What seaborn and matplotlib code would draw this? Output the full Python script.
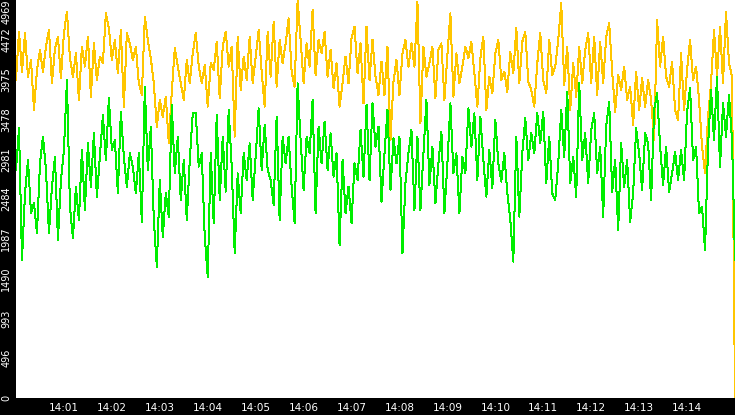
import pandas as pd
import matplotlib
matplotlib.use('Agg')
import matplotlib.pyplot as plt
import seaborn as sns

# samples every 3.75 s from 14:00:00 to 14:15:00
start = '2024-01-01 14:00:00'
step = '3750ms'

yellow = [
    3970, 4575, 4075, 4555, 4012, 4221, 3597, 4095, 4345, 4075,
    4387, 4595, 3929, 4366, 4512, 3992, 4555, 4824, 4242, 4012,
    4304, 3721, 4387, 4138, 4512, 3762, 4428, 3970, 4262, 4179,
    4802, 4616, 4221, 4470, 4054, 4595, 3638, 4555, 4428, 4221,
    4387, 3929, 3783, 4761, 4470, 4242, 3929, 3388, 3721, 3513,
    3762, 3179, 3824, 4366, 4138, 3929, 3721, 4221, 3929, 4304,
    4555, 4138, 3929, 4158, 3638, 4179, 4095, 4449, 3741, 4387,
    4575, 4138, 4387, 3263, 4512, 3846, 4262, 3970, 4512, 3929,
    4262, 4595, 4075, 3638, 4575, 4012, 4699, 3888, 4470, 4179,
    4428, 4740, 4075, 3888, 4969, 4470, 3929, 4428, 4138, 4845,
    4033, 4470, 4304, 4575, 4012, 4345, 3867, 4179, 3638, 3929,
    4262, 3929, 4490, 4637, 4054, 4428, 3679, 4637, 3970, 4470,
    4012, 3783, 4200, 3783, 4387, 3222, 3950, 4221, 3783, 4304,
    4470, 4138, 4428, 4138, 4945, 3429, 4387, 4012, 4179, 4387,
    3741, 4345, 4428, 3721, 4283, 4802, 3762, 4304, 3929, 4138,
    4387, 4242, 4449, 4054, 3638, 4242, 4512, 3597, 4012, 3804,
    4304, 4470, 3970, 4075, 3824, 4324, 4054, 4616, 3929, 4449,
    4575, 3950, 3846, 3638, 4179, 4555, 3970, 3804, 4470, 4033,
    4138, 4470, 4927, 3908, 4387, 3597, 4179, 3762, 4387, 3929,
    4345, 4555, 3929, 4512, 3783, 4449, 3929, 4512, 4678, 4075,
    3576, 4033, 3846, 4138, 3721, 3888, 3409, 4075, 3597, 3992,
    3638, 3970, 3721, 3222, 4719, 4138, 4512, 4012, 3888, 4200,
    3597, 3471, 4304, 3597, 4095, 4470, 3970, 4138, 3721, 3138,
    2805, 3513, 3929, 4595, 4012, 4637, 3929, 4824, 4179, 4012,
    0,
]

green = [
    2847, 3367, 1724, 2555, 2972, 2306, 2431, 2056, 2930, 3263,
    2847, 2056, 2639, 3014, 1973, 2722, 3096, 3970, 2389, 1994,
    2639, 2223, 3096, 2348, 3179, 2639, 3305, 2514, 3014, 3534,
    2972, 3741, 3096, 3222, 2555, 3576, 3014, 2639, 3055, 2889,
    2555, 3055, 2201, 3888, 2847, 3388, 2223, 1640, 2722, 2015,
    2555, 2265, 3658, 2805, 3263, 2472, 2972, 2223, 2972, 3555,
    3555, 2889, 3055, 2015, 1515, 3055, 2181, 3534, 2472, 3263,
    2577, 3597, 2889, 1806, 2805, 2306, 3055, 2722, 3179, 2472,
    3014, 3617, 2847, 3409, 2847, 2722, 2410, 3513, 2223, 3263,
    2930, 3263, 2639, 2181, 3929, 3222, 2598, 3263, 3055, 3721,
    2306, 3388, 2930, 3450, 2847, 3305, 2764, 3055, 1911, 2972,
    2306, 2639, 2181, 2930, 2722, 3346, 2764, 3658, 2722, 3679,
    3138, 3388, 2451, 3055, 3597, 2598, 3242, 2930, 3263, 1806,
    2681, 3055, 3346, 2348, 3263, 2348, 3055, 3721, 2660, 3138,
    2431, 2930, 3326, 2306, 2930, 3679, 2805, 3055, 2306, 3014,
    2805, 3617, 3138, 3555, 2722, 3513, 2972, 2514, 3096, 2618,
    3471, 2930, 2701, 3055, 2555, 2223, 1703, 3263, 2265, 3055,
    3492, 2972, 3305, 3055, 3555, 3179, 3576, 2681, 3263, 2555,
    2472, 2930, 3597, 3014, 3824, 2681, 3014, 2514, 3929, 2972,
    3305, 2681, 3346, 3555, 2805, 3138, 2265, 3388, 3700, 2577,
    2972, 2098, 3179, 2639, 2972, 2201, 2555, 3367, 3055, 2598,
    3305, 3179, 2472, 3597, 3804, 3138, 2660, 3138, 2577, 2805,
    3076, 2722, 3096, 2722, 3576, 3867, 2972, 3138, 2306, 2389,
    1848, 3138, 3846, 3222, 4012, 2889, 3679, 3263, 3783, 3222,
    1724,
]

y_ticks = [0, 496, 993, 1490, 1987, 2484, 2981, 3478, 3975, 4472, 4969]
x_ticks = ['14:01', '14:02', '14:03', '14:04', '14:05', '14:06', '14:07',
           '14:08', '14:09', '14:10', '14:11', '14:12', '14:13', '14:14']

times = pd.date_range(start, periods=len(yellow), freq=step)
df = pd.DataFrame({'time': times, 'yellow': yellow, 'green': green})

sns.set_style('white')
plt.rcParams['font.family'] = ['DejaVu Sans']

fig = plt.figure(figsize=(7.35, 4.15), dpi=100, facecolor='black')
ax = fig.add_axes([16 / 735, 17 / 415, 719 / 735, 398 / 415])
ax.set_facecolor('white')

sns.lineplot(data=df, x='time', y='yellow', color='#FFC600', lw=0.72,
             antialiased=False, ax=ax)
sns.lineplot(data=df, x='time', y='green', color='#00EE00', lw=0.72,
             antialiased=False, ax=ax)

ax.set_xlim(times[0], times[-1])
ax.set_ylim(0, 4969)
ax.set_xticks(pd.to_datetime(['2024-01-01 ' + t for t in x_ticks]))
ax.set_xticklabels(x_ticks)
ax.set_yticks(y_ticks)
ax.set_yticklabels([str(v) for v in y_ticks], rotation=90, va='center')
ax.get_yticklabels()[-1].set_va('top')
ax.tick_params(colors='white', length=2.9, width=1, labelsize=7.5, pad=1)
ax.tick_params(axis='y', labelsize=7, pad=0.5)
for s in ax.spines.values():
    s.set_visible(False)
ax.set_xlabel('')
ax.set_ylabel('')

fig.savefig('out.png', dpi=100, facecolor='black')
